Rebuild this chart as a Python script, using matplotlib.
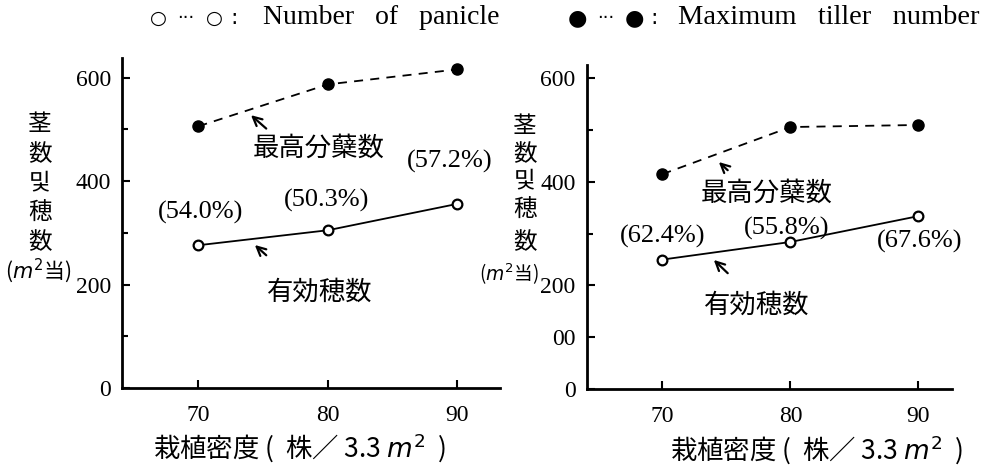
import matplotlib.pyplot as plt

# planting density (hills / 3.3 m2)
density = [70, 80, 90]

# left panel
left_panicle = [276, 305, 356]
left_tiller = [506, 587, 616]
left_pct = ['(54.0%)', '(50.3%)', '(57.2%)']

# right panel
right_panicle = [250, 284, 334]
right_tiller = [415, 506, 510]
right_pct = ['(62.4%)', '(55.8%)', '(67.6%)']

serif = ['Liberation Serif', 'DejaVu Serif', 'DejaVu Sans']
cjk = ['Noto Sans CJK JP', 'DejaVu Sans']

fig = plt.figure(figsize=(9.98, 4.67), dpi=100)
ax1 = fig.add_axes([0.1222, 0.1692, 0.379, 0.7066])
ax2 = fig.add_axes([0.588, 0.167, 0.3657, 0.694])


def style_axes(ax, ymax, xmax, yticks, ylabels):
    ax.set_xlim(64.1, xmax)
    ax.set_ylim(0, ymax)
    for s in ['top', 'right']:
        ax.spines[s].set_visible(False)
    for s in ['left', 'bottom']:
        ax.spines[s].set_linewidth(2)
    ax.set_xticks(density)
    ax.set_xticklabels([str(d) for d in density], family=serif, fontsize=17)
    ax.set_yticks(yticks)
    ax.set_yticklabels(ylabels, family=serif, fontsize=17)
    ax.tick_params(direction='in', length=6, width=1.5, pad=8)
    ax.tick_params(axis='x', pad=12)
    ax.patch.set_alpha(0)


style_axes(ax1, 638, 93.3, [0, 200, 400, 600], ['0', '200', '400', '600'])
ax1.set_yticks([100, 300, 500], minor=True)
ax1.tick_params(which='minor', direction='in', length=4, width=1.5)

style_axes(ax2, 626, 92.6, [0, 100, 200, 400, 600], ['0', '00', '200', '400', '600'])
ax2.set_yticks([300, 500], minor=True)
ax2.tick_params(which='minor', direction='in', length=4, width=1.5)

for ax, pan, til, pct, offs in [
    (ax1, left_panicle, left_tiller, left_pct, [(2, 33), (-1, 30), (-8, 42)]),
    (ax2, right_panicle, right_tiller, right_pct, [(0, 23), (-4, 14), (1, -25)]),
]:
    ax.plot(density, pan, color='black', lw=1.3, marker='o', ms=7,
            mfc='white', mec='black', mew=1.6, clip_on=False)
    ax.plot(density, til, color='black', lw=1.3, ls=(0, (5, 4)), marker='o',
            ms=8, mfc='black', mec='black', clip_on=False)
    for x, y, t, o in zip(density, pan, pct, offs):
        ax.annotate(t, xy=(x, y), xytext=o, textcoords='offset pixels',
                    ha='center', va='center', family=serif, fontsize=19)

arrow = dict(arrowstyle='->', color='black', lw=1.6, mutation_scale=16)

# left panel labels
ax1.text(79.3, 464, '最高分蘖数', family=cjk, fontsize=19, ha='center', va='center')
ax1.annotate('', xy=(73.9, 531), xytext=(75.4, 498), arrowprops=arrow)
ax1.text(79.4, 186, '有効穂数', family=cjk, fontsize=19, ha='center', va='center')
ax1.annotate('', xy=(74.2, 280), xytext=(75.4, 253), arrowprops=arrow)

# right panel labels
ax2.text(78.15, 379, '最高分蘖数', family=cjk, fontsize=19, ha='center', va='center')
ax2.annotate('', xy=(74.25, 442), xytext=(75.26, 419), arrowprops=arrow)
ax2.text(77.4, 162, '有効穂数', family=cjk, fontsize=19, ha='center', va='center')
ax2.annotate('', xy=(73.86, 253), xytext=(75.26, 220), arrowprops=arrow)

# vertical y labels
ylab = ['茎', '数', '및', '穂', '数']
for x0, ys, xm, ym, fs in [(40, [125, 155, 183, 213, 243], 38, 271, 15),
                           (525, [127, 155, 181, 210, 243], 509, 274, 13.5)]:
    for ch, y in zip(ylab, ys):
        fig.text(x0 / 998, 1 - y / 467, ch, family=cjk, fontsize=17,
                 ha='center', va='center')
    fig.text(xm / 998, 1 - ym / 467, '($m^2$当)', family=cjk, fontsize=fs,
             ha='center', va='center')

# x labels
fig.text(300 / 998, 1 - 448 / 467, '栽植密度 (  株／ 3.3 $m^2$  )', family=cjk,
         fontsize=19, ha='center', va='center')
fig.text(817 / 998, 1 - 450 / 467, '栽植密度 (  株／ 3.3 $m^2$  )', family=cjk,
         fontsize=19, ha='center', va='center')

# legend line at the top
leg_y = 1 - 18 / 467
for x, s, fs in [(158, '○', 14), (186, '···', 13), (214, '○', 14), (234, ':', 16),
                 (577, '●', 16), (606, '···', 13), (634, '●', 16), (654, ':', 16)]:
    fig.text(x / 998, leg_y, s, family=['DejaVu Sans'], fontsize=fs,
             ha='center', va='center')
fig.text(263 / 998, leg_y, 'Number   of   panicle', family=serif,
         fontsize=20, ha='left', va='center')
fig.text(678 / 998, leg_y, 'Maximum   tiller   number', family=serif,
         fontsize=20.5, ha='left', va='center')

plt.savefig('out.png', dpi=100)
